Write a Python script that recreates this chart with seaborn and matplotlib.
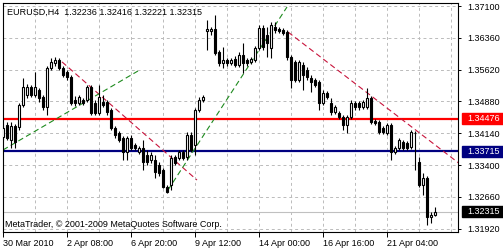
import numpy as np
import pandas as pd
import matplotlib
matplotlib.use("Agg")
import matplotlib.pyplot as plt
import matplotlib.transforms as mtrans
from matplotlib.patches import Rectangle
import seaborn as sns

# ---------------- data ----------------
opens = [1.3405, 1.3433, 1.3398, 1.3431, 1.3428, 1.3480, 1.3503, 1.3522, 1.3503, 1.3515,
         1.3498, 1.3475, 1.3566, 1.3577, 1.3584, 1.3566, 1.3556, 1.3545, 1.3491, 1.3484,
         1.3491, 1.3491, 1.3522, 1.3484, 1.3461, 1.3487, 1.3487, 1.3468, 1.3426, 1.3415,
         1.3403, 1.3370, 1.3403, 1.3387, 1.3370, 1.3380, 1.3363, 1.3352, 1.3352, 1.3340,
         1.3328, 1.3289, 1.3294, 1.3359, 1.3356, 1.3370, 1.3359, 1.3410, 1.3387, 1.3468,
         1.3491, 1.3652, 1.3652, 1.3657, 1.3603, 1.3577, 1.3584, 1.3577, 1.3587, 1.3573,
         1.3596, 1.3584, 1.3580, 1.3584, 1.3612, 1.3659, 1.3643, 1.3612, 1.3661, 1.3657,
         1.3654, 1.3650, 1.3591, 1.3580, 1.3538, 1.3573, 1.3561, 1.3542, 1.3538, 1.3533,
         1.3484, 1.3508, 1.3484, 1.3463, 1.3461, 1.3452, 1.3433, 1.3452, 1.3484, 1.3484,
         1.3475, 1.3475, 1.3496, 1.3442, 1.3440, 1.3426, 1.3415, 1.3433, 1.3370, 1.3380,
         1.3394, 1.3391, 1.3382, 1.3415, 1.3347, 1.3294, 1.3310, 1.3219, 1.32236]
highs = [1.3433, 1.3440, 1.3440, 1.3436, 1.3484, 1.3542, 1.3529, 1.3526, 1.3556, 1.3519,
         1.3503, 1.3570, 1.3589, 1.3591, 1.3589, 1.3570, 1.3561, 1.3550, 1.3501, 1.3503,
         1.3496, 1.3526, 1.3526, 1.3491, 1.3526, 1.3503, 1.3491, 1.3473, 1.3431, 1.3419,
         1.3408, 1.3408, 1.3410, 1.3391, 1.3384, 1.3398, 1.3375, 1.3370, 1.3363, 1.3347,
         1.3333, 1.3294, 1.3363, 1.3363, 1.3375, 1.3375, 1.3417, 1.3417, 1.3473, 1.3498,
         1.3503, 1.3678, 1.3661, 1.3689, 1.3608, 1.3615, 1.3589, 1.3589, 1.3594, 1.3603,
         1.3624, 1.3589, 1.3591, 1.3617, 1.3666, 1.3666, 1.3661, 1.3673, 1.3673, 1.3661,
         1.3659, 1.3654, 1.3596, 1.3584, 1.3584, 1.3580, 1.3568, 1.3550, 1.3542, 1.3538,
         1.3515, 1.3512, 1.3496, 1.3480, 1.3466, 1.3456, 1.3456, 1.3491, 1.3489, 1.3489,
         1.3491, 1.3519, 1.3501, 1.3447, 1.3445, 1.3431, 1.3438, 1.3438, 1.3384, 1.3403,
         1.3398, 1.3396, 1.3422, 1.3419, 1.3359, 1.3321, 1.3314, 1.3231, 1.32416]
lows = [1.3398, 1.3398, 1.3380, 1.3380, 1.3422, 1.3475, 1.3496, 1.3498, 1.3498, 1.3487,
        1.3468, 1.3456, 1.3561, 1.3570, 1.3561, 1.3545, 1.3538, 1.3480, 1.3477, 1.3480,
        1.3480, 1.3487, 1.3456, 1.3456, 1.3456, 1.3475, 1.3456, 1.3422, 1.3403, 1.3394,
        1.3352, 1.3352, 1.3375, 1.3375, 1.3366, 1.3328, 1.3340, 1.3345, 1.3310, 1.3314,
        1.3287, 1.3275, 1.3282, 1.3340, 1.3352, 1.3352, 1.3352, 1.3370, 1.3363, 1.3463,
        1.3487, 1.3608, 1.3643, 1.3596, 1.3570, 1.3566, 1.3570, 1.3573, 1.3568, 1.3568,
        1.3554, 1.3570, 1.3575, 1.3580, 1.3608, 1.3608, 1.3591, 1.3589, 1.3647, 1.3647,
        1.3643, 1.3584, 1.3519, 1.3533, 1.3533, 1.3515, 1.3538, 1.3510, 1.3522, 1.3468,
        1.3480, 1.3494, 1.3456, 1.3459, 1.3447, 1.3422, 1.3415, 1.3447, 1.3468, 1.3468,
        1.3470, 1.3470, 1.3436, 1.3433, 1.3412, 1.3412, 1.3410, 1.3352, 1.3366, 1.3375,
        1.3375, 1.3375, 1.3377, 1.3328, 1.3289, 1.3270, 1.3200, 1.3205, 1.32221]
closes = [1.3426, 1.3403, 1.3431, 1.3394, 1.3480, 1.3522, 1.3522, 1.3503, 1.3522, 1.3496,
          1.3475, 1.3566, 1.3580, 1.3584, 1.3566, 1.3550, 1.3545, 1.3484, 1.3484, 1.3498,
          1.3484, 1.3522, 1.3461, 1.3461, 1.3498, 1.3480, 1.3463, 1.3426, 1.3410, 1.3398,
          1.3370, 1.3403, 1.3380, 1.3380, 1.3380, 1.3347, 1.3347, 1.3363, 1.3324, 1.3321,
          1.3289, 1.3277, 1.3356, 1.3345, 1.3370, 1.3356, 1.3410, 1.3375, 1.3468, 1.3491,
          1.3498, 1.3657, 1.3657, 1.3601, 1.3577, 1.3584, 1.3577, 1.3584, 1.3573, 1.3596,
          1.3577, 1.3577, 1.3587, 1.3612, 1.3659, 1.3615, 1.3624, 1.3666, 1.3654, 1.3652,
          1.3647, 1.3591, 1.3538, 1.3538, 1.3580, 1.3550, 1.3545, 1.3533, 1.3526, 1.3484,
          1.3508, 1.3498, 1.3463, 1.3475, 1.3452, 1.3433, 1.3452, 1.3484, 1.3475, 1.3475,
          1.3487, 1.3496, 1.3440, 1.3438, 1.3417, 1.3417, 1.3433, 1.3370, 1.3380, 1.3398,
          1.3380, 1.3380, 1.3417, 1.3415, 1.3294, 1.3310, 1.3219, 1.3224, 1.32315]

title_text = "EURUSD,H4  1.32236 1.32416 1.32221 1.32315"
copyright_text = "MetaTrader, \u00a9 2001-2009 MetaQuotes Software Corp."

x_tick_bars = [0, 16, 32, 48, 64, 80, 96]
x_tick_labels = ["30 Mar 2010", "2 Apr 08:00", "6 Apr 20:00", "9 Apr 12:00",
                 "14 Apr 00:00", "16 Apr 16:00", "21 Apr 04:00"]
x_grid_bars = [8, 24, 40, 56, 72, 88, 104, 112]
y_ticks = [1.37100, 1.36360, 1.35620, 1.34880, 1.34140, 1.33400, 1.32660, 1.31920]
y_tick_labels = ["1.37100", "1.36360", "1.35620", "1.34880", "1.34140", "1.33400",
                 "1.32660", "1.31920"]

level_red = 1.34476
level_blue = 1.33715
bid_price = 1.32315

# trend lines: (bar index, price) endpoints
red1_x = [14.75, 48.5]
red1_y = [1.3580, 1.3305]
red2_x = [71.25, 114.0]
red2_y = [1.36495, 1.33440]
green1_x = [0.0, 33.75]
green1_y = [1.3375, 1.35588]
green2_x = [41.25, 71.0]
green2_y = [1.32819, 1.37077]

# ---------------- style ----------------
sns.set_theme(style="white")
plt.rcParams["font.family"] = ["Liberation Sans", "DejaVu Sans"]
FS = 6.5

df = pd.DataFrame({"open": opens, "high": highs, "low": lows, "close": closes})
df["idx"] = np.arange(len(df))
df["bull"] = df["close"] >= df["open"]

fig = plt.figure(figsize=(5.03, 2.5), dpi=100)
fig.patch.set_facecolor("white")
ax = fig.add_axes([3 / 503, 18 / 250, 455 / 503, 229 / 250])
ax.set_facecolor("white")

# levels
ax.axhline(bid_price, color="#C0C0C0", lw=0.8, zorder=1.5)
ax.axhline(level_red, color="#FF0000", lw=1.6, zorder=2)
ax.axhline(level_blue, color="#000080", lw=1.6, zorder=2)

# trend lines
dash = (0, (5, 3))
for xs, ys, col in [(red1_x, red1_y, "#C8143C"), (red2_x, red2_y, "#C8143C"),
                    (green1_x, green1_y, "#1E8A1E"), (green2_x, green2_y, "#1E8A1E")]:
    sns.lineplot(x=xs, y=ys, ax=ax, color=col, lw=0.8, linestyle=dash, zorder=2.5)

# candles
ax.vlines(df["idx"], df["low"], df["high"], color="black", lw=0.8, zorder=3)
bull = df[df["bull"]]
bear = df[~df["bull"]]
ax.bar(bull["idx"], bull["close"] - bull["open"], bottom=bull["open"], width=0.6,
       color="white", edgecolor="black", lw=0.8, zorder=4)
ax.bar(bear["idx"], bear["open"] - bear["close"], bottom=bear["close"], width=0.6,
       color="black", edgecolor="black", lw=0.8, zorder=4)

ax.set_xlim(0, 113.75)
ax.set_ylim(1.31841, 1.37170)
ax.set_xlabel("")
ax.set_ylabel("")

# ticks
ax.set_xticks(x_tick_bars)
ax.set_xticklabels(x_tick_labels)
ax.set_xticks(x_grid_bars, minor=True)
for lab in ax.get_xticklabels():
    lab.set_ha("left")
ax.tick_params(axis="x", which="major", bottom=True, direction="out", length=3.5,
               width=0.7, pad=1.2, labelsize=FS, colors="black")
ax.tick_params(axis="x", which="minor", bottom=True, length=0)

ax.set_yticks(y_ticks)
ax.set_yticklabels(y_tick_labels)
ax.yaxis.tick_right()
ax.tick_params(axis="y", which="major", right=True, left=False, direction="out",
               length=2.5, width=0.7, pad=4.0, labelsize=FS, colors="black")

ax.set_axisbelow(True)
ax.grid(True, which="both", axis="x", color="#BBBBBB", ls=(0, (3, 3)), lw=0.7)
ax.grid(True, which="major", axis="y", color="#BBBBBB", ls=(0, (3, 3)), lw=0.7)

for s in ax.spines.values():
    s.set_color("black")
    s.set_linewidth(0.8)

# texts
ax.text(0.0088, 0.9607, title_text, transform=ax.transAxes, fontsize=FS,
        va="center", ha="left", color="black")
ax.text(0.0044, 0.0349, copyright_text, transform=ax.transAxes, fontsize=FS,
        va="center", ha="left", color="black")

# right-hand price boxes
trans = mtrans.blended_transform_factory(ax.transAxes, ax.transData)
for val, col in [(level_red, "#FF0000"), (level_blue, "#000080"), (bid_price, "black")]:
    ax.add_patch(Rectangle((1.0088, val - 0.00124), 0.0925, 0.00248, transform=trans,
                           facecolor=col, edgecolor=col, clip_on=False, zorder=5))
    ax.text(1.0198, val, f"{val:.5f}", transform=trans, fontsize=FS, color="white",
            va="center", ha="left", clip_on=False, zorder=6)

fig.savefig("out.png", dpi=100, facecolor="white")
